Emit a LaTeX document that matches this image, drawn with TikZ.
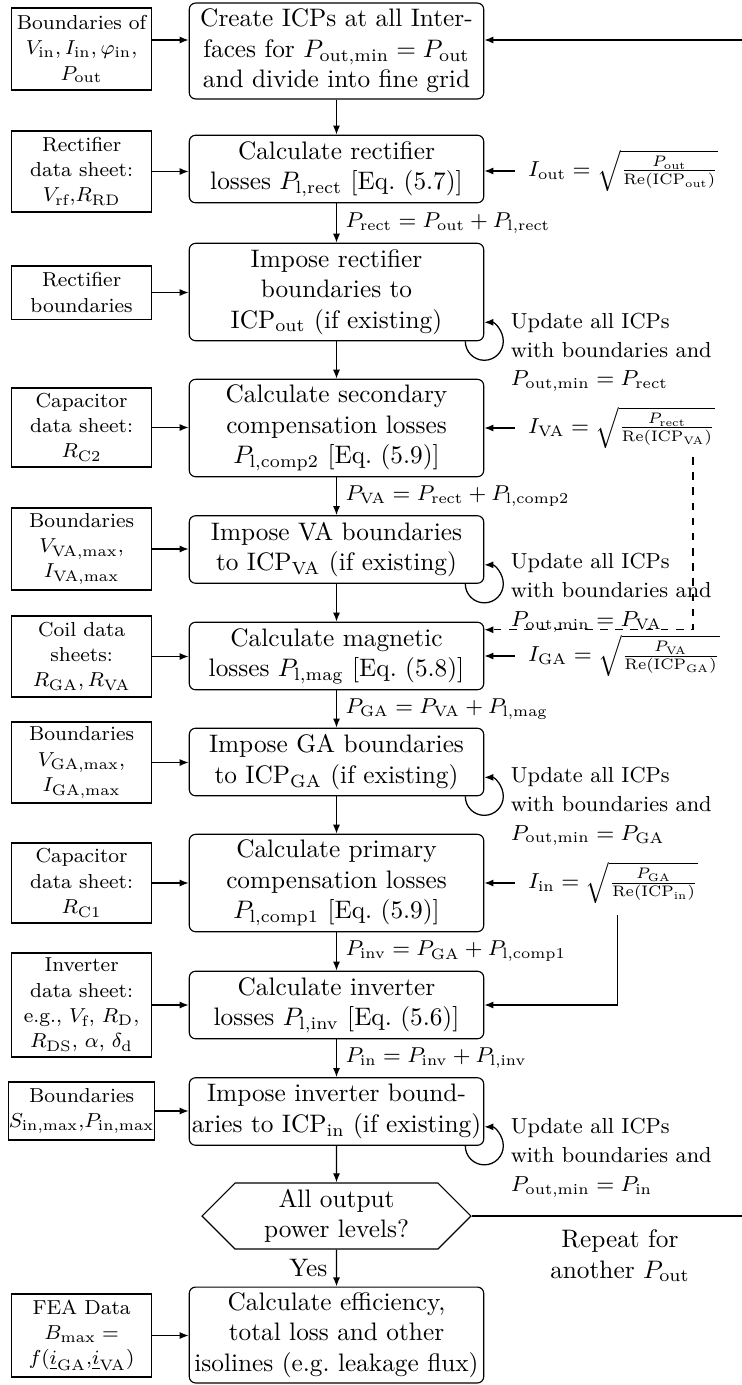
\RequirePackage{fix-cm}
\documentclass[tikz,border=0pt]{standalone}
\usepackage{amsmath}
\usetikzlibrary{arrows.meta,shapes.symbols}

\begin{document}
\begin{tikzpicture}[x=0.3953pt, y=-0.3953pt,
  >={Latex[length=3.6pt,width=2.8pt]},
  proc/.style={draw, line width=0.45pt, rounded corners=2.5pt, align=center,
    minimum width=116.4pt, inner sep=1pt, font=\normalsize},
  twoline/.style={proc, minimum height=26.7pt},
  threeline/.style={proc, minimum height=38.5pt},
  inbox/.style={draw, line width=0.45pt, align=center, minimum width=55.2pt,
    inner sep=1pt, font=\fontsize{8}{10}\selectfont},
  decision/.style={draw, line width=0.45pt, signal, signal to=east and west,
    signal pointer angle=90, minimum width=106.3pt, minimum height=26.1pt,
    inner sep=1pt, align=center},
  current/.style={anchor=west, inner xsep=5pt, inner ysep=1pt,
    font=\fontsize{8.6}{11}\selectfont},
  note/.style={anchor=west, align=left, font=\fontsize{8.6}{11.4}\selectfont,
    inner sep=0pt},
  lbl/.style={right, font=\fontsize{8.5}{10.5}\selectfont},
  flow/.style={->, line width=0.5pt},
  feedback/.style={->, line width=0.5pt, dashed}
]
\useasboundingbox (0,0) rectangle (742,1385);

% main process chain
\node[threeline, minimum height=37.9pt] (b1) at (336.5,51)
  {Create ICPs at all Inter-\\faces for $P_\text{out,min} = P_\text{out}$\\and divide into fine grid};
\node[twoline] (b2) at (336.5,169)
  {Calculate rectifier\\losses $P_\text{l,rect}$ [Eq.~(5.7)]};
\node[threeline] (b3) at (336.5,292)
  {Impose rectifier\\boundaries to\\ICP$_\text{out}$ (if existing)};
\node[threeline] (b4) at (336.5,428)
  {Calculate secondary\\compensation losses\\$P_\text{l,comp2}$ [Eq.~(5.9)]};
\node[twoline] (b5) at (336.5,549.5)
  {Impose VA boundaries\\to ICP$_\text{VA}$ (if existing)};
\node[twoline] (b6) at (336.5,656)
  {Calculate magnetic\\losses $P_\text{l,mag}$ [Eq.~(5.8)]};
\node[twoline] (b7) at (336.5,762)
  {Impose GA boundaries\\to ICP$_\text{GA}$ (if existing)};
\node[threeline] (b8) at (336.5,883)
  {Calculate primary\\compensation losses\\$P_\text{l,comp1}$ [Eq.~(5.9)]};
\node[twoline] (b9) at (336.5,1005)
  {Calculate inverter\\losses $P_\text{l,inv}$ [Eq.~(5.6)]};
\node[twoline] (b10) at (336.5,1111.5)
  {Impose inverter bound-\\aries to ICP$_\text{in}$ (if existing)};
\node[decision] (hex) at (336.5,1216) {All output\\power levels?};
\node[threeline, minimum height=37.9pt] (b11) at (336.5,1335)
  {Calculate efficiency,\\total loss and other\\isolines (e.g.\ leakage flux)};

% input data
\node[inbox, minimum height=32.4pt] (l1) at (81.6,49)
  {Boundaries of\\$V_\text{in}, I_\text{in}, \varphi_\text{in}$,\\$P_\text{out}$};
\node[inbox, minimum height=32.0pt] (l2) at (81.6,171.5)
  {Rectifier\\data sheet:\\$V_\text{rf}$,$R_\text{RD}$};
\node[inbox, minimum height=21.0pt] (l3) at (81.6,292.5)
  {Rectifier\\boundaries};
\node[inbox, minimum height=31.2pt] (l4) at (81.6,427.5)
  {Capacitor\\data sheet:\\$R_\text{C2}$};
\node[inbox, minimum height=32.4pt] (l5) at (81.6,549)
  {Boundaries\\$V_\text{VA,max}$,\\$I_\text{VA,max}$};
\node[inbox, minimum height=32.0pt] (l6) at (81.6,656.5)
  {Coil data\\sheets:\\$R_\text{GA}, R_\text{VA}$};
\node[inbox, minimum height=32.0pt] (l7) at (81.6,762.5)
  {Boundaries\\$V_\text{GA,max}$,\\$I_\text{GA,max}$};
\node[inbox, minimum height=31.6pt] (l8) at (81.6,883)
  {Capacitor\\data sheet:\\$R_\text{C1}$};
\node[inbox, minimum height=41.1pt] (l9) at (81.6,1005)
  {Inverter\\data sheet:\\e.g., $V_\text{f}$, $R_\text{D}$,\\$R_\text{DS}$, $\alpha$, $\delta_\text{d}$};
\node[inbox, minimum height=22.9pt, inner xsep=0pt] (l10) at (81.6,1111)
  {Boundaries\\$S_\text{in,max}$,$P_\text{in,max}$};
\node[inbox, minimum height=32.8pt] (l11) at (81.6,1335.5)
  {FEA Data\\$B_\text{max} =$\\$f(\underline{i}_\text{GA}$,$\underline{i}_\text{VA})$};

% currents fed back from the impedance points
\node[current] (fout) at (514.9,171)
  {$I_\text{out} = \sqrt{\frac{P_\text{out}}{\mathrm{Re}(\mathrm{ICP}_\text{out})}}$};
\node[current] (fva) at (514.9,428)
  {$I_\text{VA} = \sqrt{\frac{P_\text{rect}}{\mathrm{Re}(\mathrm{ICP}_\text{VA})}}$};
\node[current] (fga) at (514.9,656)
  {$I_\text{GA} = \sqrt{\frac{P_\text{VA}}{\mathrm{Re}(\mathrm{ICP}_\text{GA})}}$};
\node[current] (fin) at (514.9,883)
  {$I_\text{in} = \sqrt{\frac{P_\text{GA}}{\mathrm{Re}(\mathrm{ICP}_\text{in})}}$};

% update notes beside the imposing steps
\node[note] (u3) at ([shift={(26,11)}]b3.south east)
  {Update all ICPs\\with boundaries and\\$P_\text{out,min} = P_\text{rect}$};
\node[note] (u5) at ([shift={(26,9)}]b5.south east)
  {Update all ICPs\\with boundaries and\\$P_\text{out,min} = P_\text{VA}$};
\node[note] (u7) at ([shift={(26,10)}]b7.south east)
  {Update all ICPs\\with boundaries and\\$P_\text{out,min} = P_\text{GA}$};
\node[note] (u10) at ([shift={(26,12)}]b10.south east)
  {Update all ICPs\\with boundaries and\\$P_\text{out,min} = P_\text{in}$};

\node[align=center] (rep) at (620,1256) {Repeat for\\another $P_\text{out}$};

% main flow
\draw[flow] (b1) -- (b2);
\draw[flow] (b2) -- node[lbl] {$P_\text{rect} = P_\text{out} + P_\text{l,rect}$} (b3);
\draw[flow] (b3) -- (b4);
\draw[flow] (b4) -- node[lbl] {$P_\text{VA} = P_\text{rect} + P_\text{l,comp2}$} (b5);
\draw[flow] (b5) -- (b6);
\draw[flow] (b6) -- node[lbl] {$P_\text{GA} = P_\text{VA} + P_\text{l,mag}$} (b7);
\draw[flow] (b7) -- (b8);
\draw[flow] (b8) -- node[lbl] {$P_\text{inv} = P_\text{GA} + P_\text{l,comp1}$} (b9);
\draw[flow] (b9) -- node[lbl] {$P_\text{in} = P_\text{inv} + P_\text{l,inv}$} (b10);
\draw[flow] (b10) -- (hex);
\draw[flow] (hex) -- node[left] {Yes} (b11);

% data inputs
\coordinate (rt) at (745,40);
\coordinate (rb) at (745,1216);
\draw[flow] (l1.east |- rt) -- (b1.west |- rt);
\foreach \i in {2,...,11} {
  \draw[flow] (l\i.east) -- (l\i.east -| b\i.west);
}

% current inputs
\draw[flow] (fout.west) -- (fout.west -| b2.east);
\draw[flow] (fva.west) -- (fva.west -| b4.east);
\draw[flow] (fga.west) -- (fga.west -| b6.east);
\draw[flow] (fin.west) -- (fin.west -| b8.east);

% self loops of the imposing steps
\foreach \b in {b3,b5,b7,b10} {
  \draw[flow] ([xshift=-19*0.3953pt]\b.south east) arc[start angle=180, end angle=-90, radius=19];
}

% dashed link and inverter current link
\coordinate (dtop) at (693,457);
\draw[feedback] (dtop) |- ([yshift=-3.2pt]b6.north east);
\coordinate (itop) at (617.6,915);
\draw[flow] (itop) |- (b9.east);

% repeat loop
\draw[flow] (hex.east) -- (rb) -- (rt) -- (rt -| b1.east);
\end{tikzpicture}
\end{document}
